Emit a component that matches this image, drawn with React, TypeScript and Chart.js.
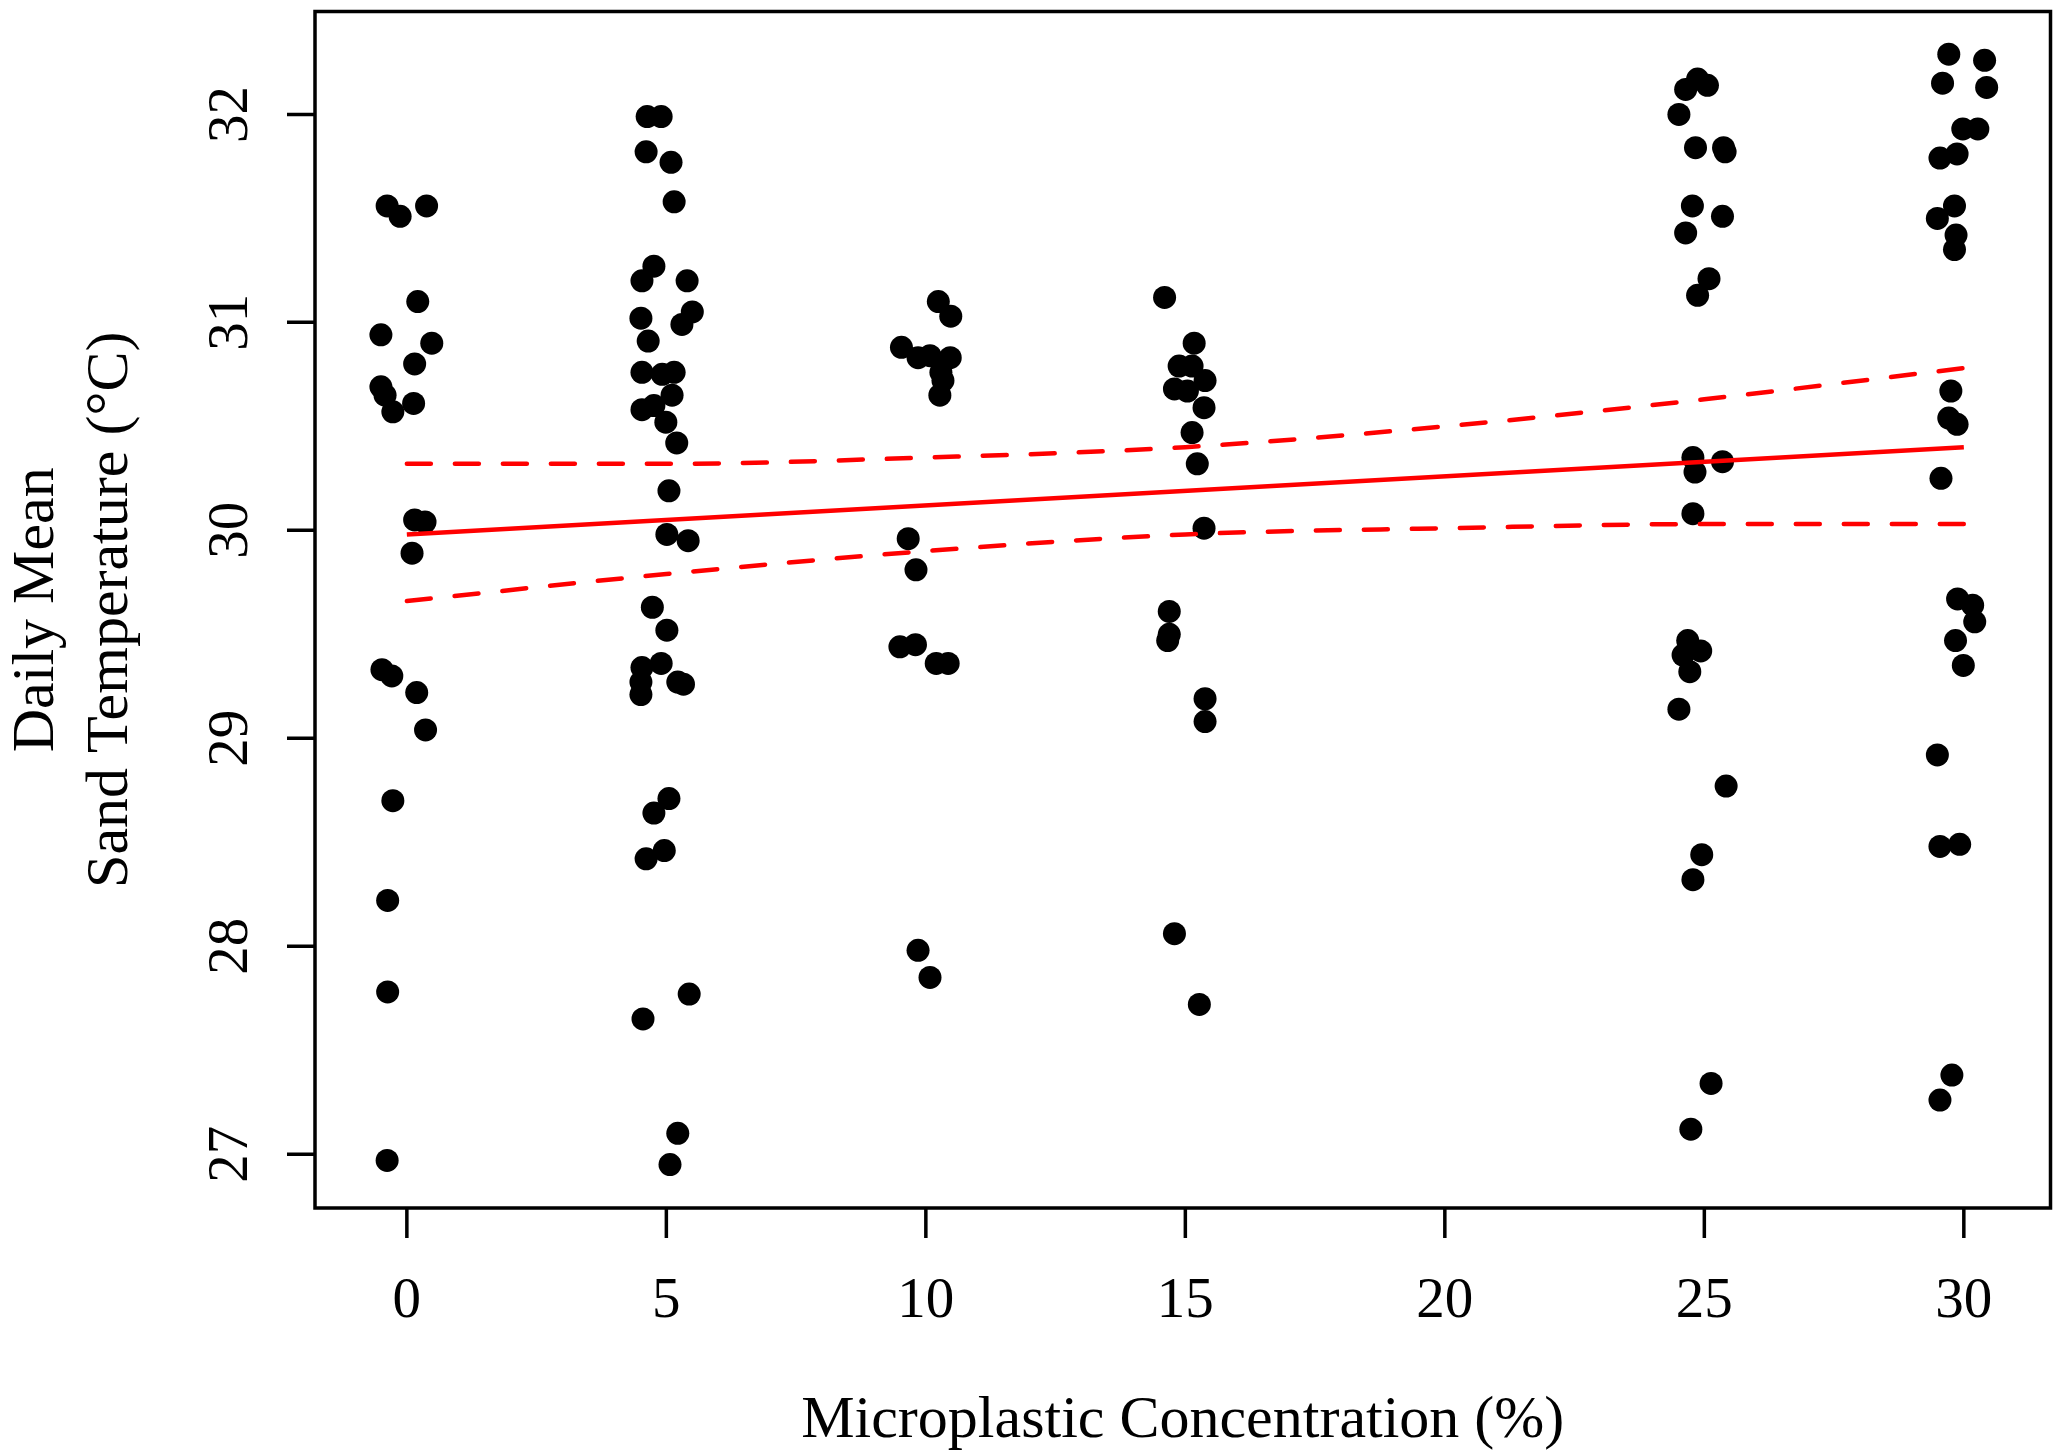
import { useEffect, useRef } from 'react';
import { Chart, registerables } from 'chart.js';

Chart.register(...registerables);

// jittered observations per microplastic concentration group: [x, temperature]
const group0: [number, number][] = [
  [-0.38, 31.56], [-0.13, 31.51], [0.38, 31.56], [0.21, 31.1], [-0.5, 30.94], [0.48, 30.9],
  [0.15, 30.8], [-0.5, 30.69], [-0.42, 30.65], [-0.27, 30.57], [0.13, 30.61], [0.15, 30.05],
  [0.35, 30.04], [0.1, 29.89], [-0.48, 29.33], [-0.29, 29.3], [0.19, 29.22], [0.36, 29.04],
  [-0.27, 28.7], [-0.37, 28.22], [-0.37, 27.78], [-0.38, 26.97],
];
const group5: [number, number][] = [
  [4.63, 31.99], [4.9, 31.99], [4.61, 31.82], [5.09, 31.77], [5.15, 31.58], [4.76, 31.27],
  [4.53, 31.2], [5.4, 31.2], [4.51, 31.02], [4.65, 30.91], [5.5, 31.05], [5.3, 30.99],
  [4.53, 30.76], [5.15, 30.76], [4.92, 30.75], [5.11, 30.65], [4.53, 30.58], [4.76, 30.6],
  [4.99, 30.52], [5.2, 30.42], [5.05, 30.19], [5.01, 29.98], [5.42, 29.95], [4.73, 29.63],
  [5.01, 29.52], [4.9, 29.36], [4.53, 29.34], [4.51, 29.27], [4.51, 29.21], [5.22, 29.27],
  [5.33, 29.26], [5.05, 28.71], [4.76, 28.64], [4.96, 28.46], [4.61, 28.42], [4.55, 27.65],
  [5.44, 27.77], [5.22, 27.1], [5.07, 26.95],
];
const group10: [number, number][] = [
  [10.24, 31.1], [10.48, 31.03], [9.53, 30.88], [9.85, 30.83], [10.08, 30.84], [10.47, 30.83],
  [10.29, 30.76], [10.33, 30.72], [10.27, 30.65], [9.66, 29.96], [9.81, 29.81], [9.5, 29.44],
  [9.8, 29.45], [10.2, 29.36], [10.43, 29.36], [9.85, 27.98], [10.08, 27.85],
];
const group15: [number, number][] = [
  [14.6, 31.12], [15.17, 30.9], [14.88, 30.79], [15.13, 30.79], [15.38, 30.72], [14.79, 30.68],
  [15.04, 30.67], [15.36, 30.59], [15.13, 30.47], [15.23, 30.32], [15.36, 30.01], [14.69, 29.61],
  [14.69, 29.5], [14.66, 29.47], [15.38, 29.19], [15.38, 29.08], [14.79, 28.06], [15.27, 27.72],
];
const group25: [number, number][] = [
  [24.87, 32.17], [25.06, 32.14], [24.64, 32.12], [24.51, 32.0], [24.83, 31.84], [25.37, 31.84],
  [25.4, 31.82], [24.77, 31.56], [25.35, 31.51], [24.64, 31.43], [25.09, 31.21], [24.87, 31.13],
  [24.78, 30.35], [25.35, 30.33], [24.82, 30.28], [24.78, 30.08], [24.68, 29.47], [24.93, 29.42],
  [24.59, 29.4], [24.72, 29.32], [24.51, 29.14], [25.42, 28.77], [24.95, 28.44], [24.78, 28.32],
  [25.13, 27.34], [24.74, 27.12],
];
const group30: [number, number][] = [
  [29.71, 32.29], [30.4, 32.26], [29.59, 32.15], [30.44, 32.13], [29.98, 31.93], [30.27, 31.93],
  [29.54, 31.79], [29.87, 31.81], [29.82, 31.56], [29.49, 31.5], [29.85, 31.42], [29.82, 31.35],
  [29.75, 30.67], [29.71, 30.54], [29.87, 30.51], [29.56, 30.25], [29.88, 29.67], [30.17, 29.64],
  [30.21, 29.56], [29.84, 29.47], [29.99, 29.35], [29.49, 28.92], [29.54, 28.48], [29.92, 28.49],
  [29.77, 27.38], [29.54, 27.26],
];

// regression fit and confidence band
const fitX = [0, 30];
const fitY = [29.98, 30.4];
const bandX = [0, 5, 10, 15, 20, 25, 30];
const bandUpper = [30.32, 30.32, 30.35, 30.4, 30.5, 30.63, 30.78];
const bandLower = [29.66, 29.79, 29.9, 29.98, 30.01, 30.03, 30.03];

const xTicks = [0, 5, 10, 15, 20, 25, 30];
const yTicks = [27, 28, 29, 30, 31, 32];

const FONT = '"Liberation Serif", "Times New Roman", serif';

const rAxes = {
  id: 'rAxes',
  afterDraw(chart: any) {
    const { ctx, chartArea: a, scales } = chart;
    const x = scales.x;
    const y = scales.y;
    ctx.save();
    ctx.strokeStyle = '#000';
    ctx.fillStyle = '#000';
    ctx.lineWidth = 3.5;
    ctx.lineCap = 'butt';
    ctx.strokeRect(a.left, a.top, a.right - a.left, a.bottom - a.top);

    // x axis ticks and labels
    ctx.font = `57px ${FONT}`;
    ctx.textAlign = 'center';
    ctx.textBaseline = 'alphabetic';
    ctx.beginPath();
    xTicks.forEach((v) => {
      const px = x.getPixelForValue(v);
      ctx.moveTo(px, a.bottom);
      ctx.lineTo(px, a.bottom + 30);
    });
    ctx.stroke();
    xTicks.forEach((v) => {
      ctx.fillText(String(v), x.getPixelForValue(v), a.bottom + 109);
    });

    // y axis ticks and labels (rotated like R)
    ctx.beginPath();
    yTicks.forEach((v) => {
      const py = y.getPixelForValue(v);
      ctx.moveTo(a.left, py);
      ctx.lineTo(a.left - 28, py);
    });
    ctx.stroke();
    yTicks.forEach((v) => {
      ctx.save();
      ctx.translate(a.left - 68, y.getPixelForValue(v));
      ctx.rotate(-Math.PI / 2);
      ctx.fillText(String(v), 0, 0);
      ctx.restore();
    });

    // axis titles
    ctx.font = `60px ${FONT}`;
    ctx.fillText('Microplastic Concentration (%)', (a.left + a.right) / 2, 1437);
    const midY = (a.top + a.bottom) / 2;
    ctx.save();
    ctx.translate(53, midY);
    ctx.rotate(-Math.PI / 2);
    ctx.fillText('Daily Mean', 0, 0);
    ctx.restore();
    ctx.save();
    ctx.translate(127, midY);
    ctx.rotate(-Math.PI / 2);
    ctx.fillText('Sand Temperature (°C)', 0, 0);
    ctx.restore();
    ctx.restore();
  },
};

export default function App() {
  const canvasRef = useRef<HTMLCanvasElement>(null);
  const chartRef = useRef<Chart | null>(null);

  useEffect(() => {
    document.body.style.margin = '0';
    document.body.style.overflow = 'hidden';
    if (!canvasRef.current) return;
    if (chartRef.current) chartRef.current.destroy();

    const points = [...group0, ...group5, ...group10, ...group15, ...group25, ...group30].map(
      ([px, py]) => ({ x: px, y: py })
    );
    const toXY = (xs: number[], ys: number[]) => xs.map((v, i) => ({ x: v, y: ys[i] }));

    chartRef.current = new Chart(canvasRef.current, {
      type: 'scatter',
      data: {
        datasets: [
          {
            label: 'Fit',
            data: toXY(fitX, fitY),
            showLine: true,
            borderColor: '#ff0000',
            borderWidth: 4.5,
            pointRadius: 0,
          },
          {
            label: 'Upper',
            data: toXY(bandX, bandUpper),
            showLine: true,
            borderColor: '#ff0000',
            borderWidth: 4.5,
            borderDash: [24, 24],
            borderCapStyle: 'round',
            cubicInterpolationMode: 'monotone',
            pointRadius: 0,
          },
          {
            label: 'Lower',
            data: toXY(bandX, bandLower),
            showLine: true,
            borderColor: '#ff0000',
            borderWidth: 4.5,
            borderDash: [24, 24],
            borderCapStyle: 'round',
            cubicInterpolationMode: 'monotone',
            pointRadius: 0,
          },
          {
            label: 'Observations',
            data: points,
            backgroundColor: '#000',
            borderWidth: 0,
            pointRadius: 11.5,
          },
        ],
      },
      options: {
        animation: false,
        responsive: true,
        maintainAspectRatio: false,
        layout: { padding: { left: 315, right: 6, top: 10, bottom: 246 } },
        plugins: { legend: { display: false }, tooltip: { enabled: false } },
        scales: {
          x: { type: 'linear', display: false, min: -1.77, max: 31.67 },
          y: { type: 'linear', display: false, min: 26.741, max: 32.495 },
        },
      },
      plugins: [rAxes],
    });

    return () => {
      chartRef.current?.destroy();
      chartRef.current = null;
    };
  }, []);

  return (
    <div style={{ position: 'relative', width: 2062, height: 1454, background: '#fff' }}>
      <canvas ref={canvasRef} />
    </div>
  );
}
